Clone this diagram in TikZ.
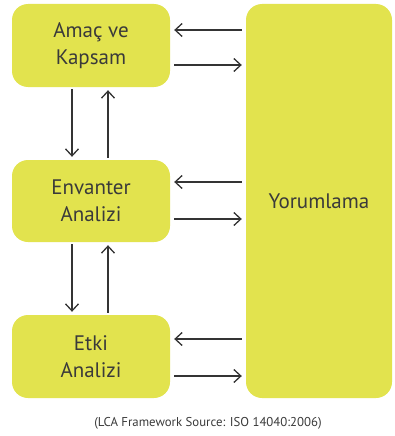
\documentclass[tikz,border=0pt]{standalone}
\usepackage{fontspec}
\setmainfont{PT Sans}
\usetikzlibrary{arrows.meta}
\definecolor{lcayellow}{RGB}{226,227,78}
\definecolor{lcatext}{RGB}{58,58,58}
\begin{document}
\begin{tikzpicture}[x=1pt, y=1pt,
    phase/.style={fill=lcayellow, rounded corners=16pt, minimum width=158pt, minimum height=83pt, align=center, text=lcatext, font=\fontsize{21}{27}\selectfont, inner sep=0pt},
    flow/.style={-{Straight Barb[length=7pt, width=13pt]}, line width=1.3pt, draw=lcatext!90!black, shorten <=4pt, shorten >=4pt}]
  \useasboundingbox (0,0) rectangle (394,-436);
  \node[phase] (amac) at (91,-45.5) {Amaç ve\\Kapsam};
  \node[phase, minimum height=82pt] (envanter) at (91,-201) {Envanter\\Analizi};
  \node[phase] (etki) at (91,-356.5) {Etki\\Analizi};
  \node[phase, minimum width=146pt, minimum height=394pt] (yorum) at (319,-201) {Yorumlama};
  % back and forth with Yorumlama
  \foreach \n/\u/\d in {amac/15.5/19.5, envanter/19/18, etki/17.5/19.5} {
    \draw[flow] ([yshift=\u pt]\n.east -| yorum.west) -- ([yshift=\u pt]\n.east);
    \draw[flow] ([yshift=-\d pt]\n.east) -- ([yshift=-\d pt]\n.east -| yorum.west);
  }
  % between the phases
  \foreach \a/\b in {amac/envanter, envanter/etki} {
    \draw[flow, shorten <=2pt, shorten >=3pt] ([xshift=-19pt]\a.south) -- ([xshift=-19pt]\b.north);
    \draw[flow, shorten <=2pt, shorten >=3pt] ([xshift=17pt]\b.north) -- ([xshift=17pt]\a.south);
  }
  \node[text=lcatext, font=\fontsize{12.8}{15}\selectfont] (kaynak) at (208,-423) {(LCA Framework Source: ISO 14040:2006)};
\end{tikzpicture}
\end{document}
